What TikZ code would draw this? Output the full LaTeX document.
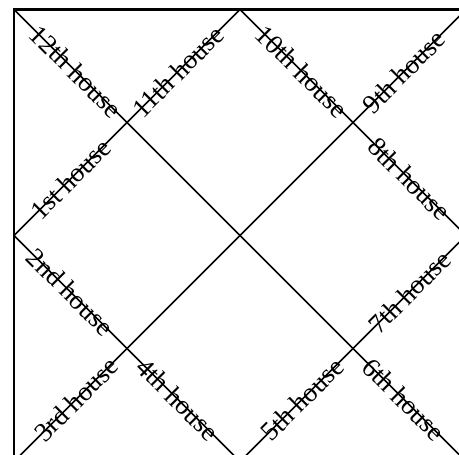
\documentclass[tikz,border=0pt]{standalone}
\usepackage{fontspec}
\setmainfont{Liberation Serif}
\usetikzlibrary{calc}

\begin{document}
\begin{tikzpicture}[
    x=1pt, y=1pt,
    edge/.style={line width=1.6pt},
    frame/.style={line width=2.4pt},
    house/.style={sloped, inner sep=0pt, font=\fontsize{27}{29}\selectfont}
]
\useasboundingbox (0,0) rectangle (459,455);

% Corners of the chart
\coordinate (tl) at (14,445.5);
\coordinate (tr) at (466,445.5);
\coordinate (bl) at (14,-6.5);
\coordinate (br) at (466,-6.5);

% Midpoints of the sides
\coordinate (top) at (240,445.5);
\coordinate (left) at (14,219.5);
\coordinate (right) at (466,219.5);
\coordinate (bottom) at (240,-6.5);

% Crossings of diagonals and diamond
\coordinate (a) at (127,332.5);
\coordinate (b) at (353,332.5);
\coordinate (c) at (127,106.5);
\coordinate (d) at (353,106.5);

% Frame
\draw[frame] (bl) rectangle (tr);

% Diagonals
\draw[edge] (tl) -- (br);
\draw[edge] (tr) -- (bl);

% Diamond
\draw[edge] (top) -- (left) -- (bottom) -- (right) -- cycle;

% House labels
\path (tl) -- (a) node[house, pos=0.55] (h12) {12th house};
\path (a) -- (top) node[house, pos=0.45] (h11) {11th house};
\path (top) -- (b) node[house, pos=0.55] (h10) {10th house};
\path (b) -- (tr) node[house, pos=0.45] (h9) {9th house};
\path (left) -- (a) node[house, midway] (h1) {1st house};
\path (b) -- (right) node[house, midway] (h8) {8th house};
\path (left) -- (c) node[house, midway] (h2) {2nd house};
\path (d) -- (right) node[house, midway] (h7) {7th house};
\path (bl) -- (c) node[house, pos=0.55] (h3) {3rd house};
\path (c) -- (bottom) node[house, pos=0.45] (h4) {4th house};
\path (bottom) -- (d) node[house, pos=0.55] (h5) {5th house};
\path (d) -- (br) node[house, pos=0.45] (h6) {6th house};

\end{tikzpicture}
\end{document}
